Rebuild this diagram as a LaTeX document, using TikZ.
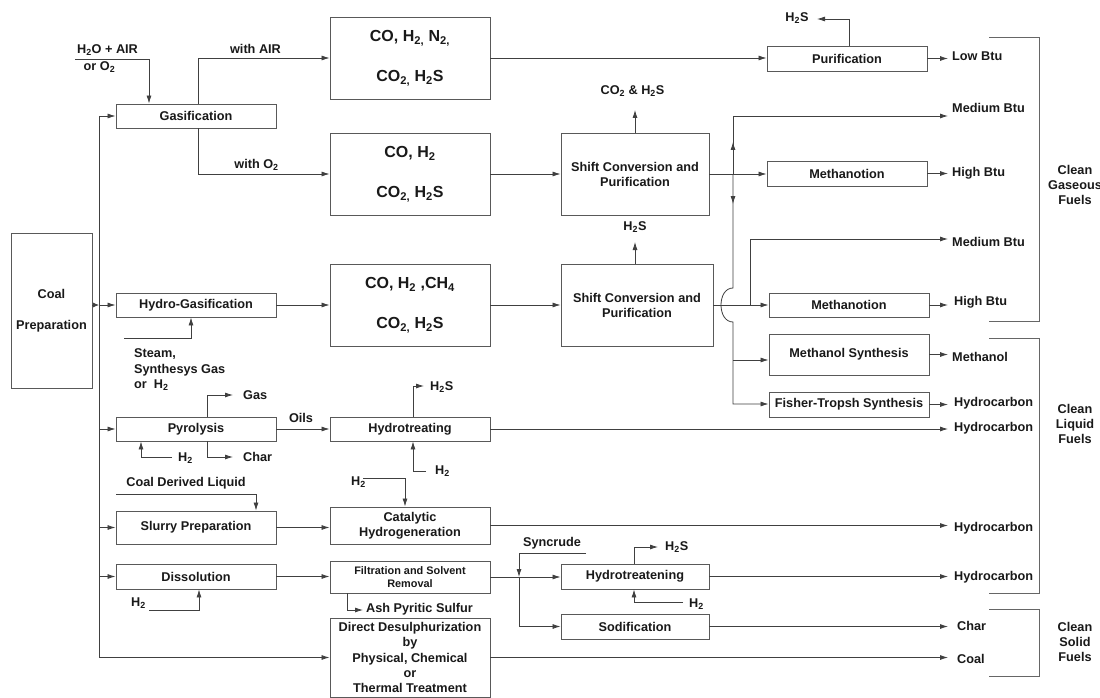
\documentclass[tikz,border=0pt]{standalone}
\usepackage{fontspec}
\setmainfont{Liberation Sans}
\usetikzlibrary{arrows.meta,decorations.markings}
\newcommand\sbs[1]{\textsubscript{#1}}
\begin{document}
\begin{tikzpicture}[x=1pt,y=-1pt,
  font=\fontsize{12.7}{15}\selectfont\bfseries,
  box/.style={draw=black!65, line width=0.9pt, inner sep=0pt, align=center, text=black!90},
  bx/.style 2 args={box, minimum width=#1pt, minimum height=#2pt},
  bigf/.style={font=\fontsize{16}{40}\selectfont\bfseries},
  ln/.style={color=black!75, line width=0.8pt},
  arr/.style={ln, -{Latex[length=8pt,width=5pt]}},
  midarr/.style={postaction={decorate}, decoration={markings, mark=at position #1 with {\arrow{Latex[length=8pt,width=5pt]}}}},
  lab/.style={inner sep=0pt, text=black!90},
  brk/.style={color=black!60, line width=0.8pt}]
\useasboundingbox[fill=white] (0,0) rectangle (1100,698);

% ---------- boxes ----------
\node[bx={81}{155}] (coal) at (51.5,310.5) {Coal\\[16pt]Preparation};
\node[bx={160}{24}] (gas) at (196,116) {Gasification};
\node[bx={160}{82}, bigf] (b1) at (410,58) {CO, H\sbs{2,} N\sbs{2,}\\CO\sbs{2,} H\sbs2S};
\node[bx={160}{82}, bigf] (b2) at (410,174) {CO, H\sbs2\\CO\sbs{2,} H\sbs2S};
\node[bx={148}{82}] (sh1) at (635,174) {Shift Conversion and\\Purification};
\node[bx={160}{25}] (pur) at (847,58.5) {Purification};
\node[bx={160}{25}] (meth1) at (847,173.5) {Methanotion};
\node[bx={160}{24}] (hgas) at (196,305) {Hydro-Gasification};
\node[bx={160}{82}, bigf] (b3) at (410,305) {CO, H\sbs2 ,CH\sbs4\\CO\sbs{2,} H\sbs2S};
\node[bx={152}{82}] (sh2) at (637,305) {Shift Conversion and\\Purification};
\node[bx={160}{24}] (meth2) at (849,305) {Methanotion};
\node[bx={160}{41}] (mesyn) at (849,354.5) {Methanol Synthesis};
\node[bx={160}{25}] (ft) at (849,404.5) {Fisher-Tropsh Synthesis};
\node[bx={160}{24}] (pyr) at (196,429) {Pyrolysis};
\node[bx={160}{24}] (hyd) at (410,429) {Hydrotreating};
\node[bx={160}{33}] (slurry) at (196,527.5) {Slurry Preparation};
\node[bx={160}{37}] (cat) at (410,525.5) {Catalytic\\Hydrogeneration};
\node[bx={160}{25}] (diss) at (196,576.5) {Dissolution};
\node[bx={160}{32}, font=\fontsize{10.9}{13}\selectfont\bfseries] (filt) at (410,577) {Filtration and Solvent\\Removal};
\node[bx={148}{25}] (htr) at (635,576.5) {Hydrotreatening};
\node[bx={148}{25}] (sod) at (635,626.5) {Sodification};
\node[bx={160}{79}, font=\fontsize{12.7}{15.25}\selectfont\bfseries] (dd) at (410,657.5) {Direct Desulphurization\\by\\Physical, Chemical\\or\\Thermal Treatment};

% ---------- labels ----------
\node[lab] (h2oair) at (107.5,50) {H\sbs2O + AIR};
\node[lab] (oro2) at (99.5,67) {or O\sbs2};
\node[lab] (withair) at (255.5,49) {with AIR};
\node[lab] (witho2) at (256.5,165) {with O\sbs2};
\node[lab] (co2h2s) at (632.5,91) {CO\sbs2 \& H\sbs2S};
\node[lab] (h2sA) at (797,18) {H\sbs2S};
\node[lab] (h2sB) at (635,227) {H\sbs2S};
\node[lab, anchor=north west, align=left, font=\fontsize{12.7}{15.5}\selectfont\bfseries] (steam) at (134,348.5) {Steam,\\Synthesys Gas\\or~~H\sbs2};
\node[lab, anchor=west] (gaslab) at (243,395) {Gas};
\node[lab, anchor=west] (charlab) at (243,457) {Char};
\node[lab, anchor=west] (pyrh2lab) at (178,458) {H\sbs2};
\node[lab] (oils) at (301,418) {Oils};
\node[lab, anchor=west] (hydh2slab) at (430,387) {H\sbs2S};
\node[lab, anchor=west] (hydh2lab) at (435,471) {H\sbs2};
\node[lab] (cdl) at (186,483) {Coal Derived Liquid};
\node[lab, anchor=west] (cath2lab) at (351,482) {H\sbs2};
\node[lab, anchor=west] (dissh2lab) at (131,603) {H\sbs2};
\node[lab, anchor=west] (ash) at (366,609) {Ash Pyritic Sulfur};
\node[lab] (syncrude) at (552,543) {Syncrude};
\node[lab, anchor=west] (htrh2slab) at (665,547) {H\sbs2S};
\node[lab, anchor=west] (htrh2lab) at (689,604) {H\sbs2};

\node[lab, anchor=west] (lowbtu) at (952,56) {Low Btu};
\node[lab, anchor=west] (medA) at (952,108) {Medium Btu};
\node[lab, anchor=west] (highA) at (952,173) {High Btu};
\node[lab, anchor=west] (medB) at (952,242) {Medium Btu};
\node[lab, anchor=west] (highB) at (954,302) {High Btu};
\node[lab, anchor=west] (methanol) at (952,357) {Methanol};
\node[lab, anchor=west] (hcA) at (954,403) {Hydrocarbon};
\node[lab, anchor=west] (hcB) at (954,428) {Hydrocarbon};
\node[lab, anchor=west] (hcC) at (954,528) {Hydrocarbon};
\node[lab, anchor=west] (hcD) at (954,577) {Hydrocarbon};
\node[lab, anchor=west] (charout) at (957,626) {Char};
\node[lab, anchor=west] (coalout) at (957,659) {Coal};

\node[lab, align=center] (cgf) at (1075,185) {Clean\\Gaseous\\Fuels};
\node[lab, align=center] (clf) at (1075,424) {Clean\\Liquid\\Fuels};
\node[lab, align=center] (csf) at (1075,642) {Clean\\Solid\\Fuels};

% ---------- coordinates ----------
\coordinate (xtip) at (948,0);
\coordinate (bustop) at (99,116);
\coordinate (h2oin) at (75,59);
\coordinate (h2sAtip) at (817,19);
\coordinate (co2tip) at (635,110);
\coordinate (h2sBtip) at (635,242);
\coordinate (jA) at (733,174);
\coordinate (mAtip) at (948,116);
\coordinate (hop1) at (733,288);
\coordinate (hop2) at (733,322);
\coordinate (jS) at (733,360);
\coordinate (jF) at (733,404);
\coordinate (jB) at (750,305);
\coordinate (mBtip) at (948,239);
\coordinate (steamin) at (124,338);
\coordinate (gastip) at (233,395);
\coordinate (chartip) at (233,457);
\coordinate (pyrh2) at (172,457);
\coordinate (hydh2stip) at (424,386);
\coordinate (hydh2) at (426,471);
\coordinate (cdlin) at (116,494);
\coordinate (cath2) at (363,478);
\coordinate (dissh2) at (149,610);
\coordinate (ashtip) at (363,610);
\coordinate (synin) at (586,553);
\coordinate (jSyn) at (519,577);
\coordinate (htrh2stip) at (658,547);
\coordinate (htrh2) at (683,602);

% ---------- connectors ----------
% feed bus
\draw[ln] (bustop) -- (bustop |- dd.west);
\draw[arr] (bustop) -- (gas.west);
\draw[arr] (bustop |- hgas.west) -- (hgas.west);
\draw[arr] (bustop |- pyr.west) -- (pyr.west);
\draw[arr] (bustop |- slurry.west) -- (slurry.west);
\draw[arr] (bustop |- diss.west) -- (diss.west);
\draw[arr] (bustop |- dd.west) -- (dd.west);
\draw[ln, -{Latex[length=6pt,width=5pt]}] (coal.east |- hgas.west) -- (bustop |- hgas.west);

% gasification
\draw[arr] (h2oin) -| ([xshift=-47pt]gas.north);
\draw[arr] ([xshift=2pt]gas.north) |- (b1.west);
\draw[arr] ([xshift=2pt]gas.south) |- (b2.west);
\draw[arr] (b1.east) -- (b1.east -| pur.west);
\draw[arr] ([xshift=2pt]pur.north) |- (h2sAtip);
\draw[arr] (pur.east) -- (pur.east -| xtip);
\draw[arr] (b2.east) -- (sh1.west);
\draw[arr] (sh1.north) -- (co2tip);
\draw[arr] (sh1.east) -- (sh1.east -| meth1.west);
\draw[arr] (meth1.east) -- (meth1.east -| xtip);
\draw[arr, midarr=32pt] (jA) |- (mAtip);
\draw[arr, midarr=30pt] (jA) -- (hop1) .. controls +(-16,0) and +(-16,0) .. (hop2) -- (jF) -- (jF -| ft.west);
\draw[arr] (jS) -- (jS -| mesyn.west);

% hydro-gasification
\draw[arr] (steamin) -| ([xshift=-5pt]hgas.south);
\draw[arr] (hgas.east) -- (b3.west);
\draw[arr] (b3.east) -- (sh2.west);
\draw[arr] ([xshift=-2pt]sh2.north) -- (h2sBtip);
\draw[arr] (sh2.east) -- (meth2.west);
\draw[arr] (jB) |- (mBtip);
\draw[arr] (meth2.east) -- (meth2.east -| xtip);
\draw[arr] (mesyn.east) -- (mesyn.east -| xtip);
\draw[arr] (ft.east) -- (ft.east -| xtip);

% pyrolysis
\draw[arr] ([xshift=11pt]pyr.north) |- (gastip);
\draw[arr] ([xshift=11pt]pyr.south) |- (chartip);
\draw[arr] (pyrh2) -| ([xshift=-55pt]pyr.south);
\draw[arr] (pyr.east) -- (hyd.west);
\draw[arr] ([xshift=3pt]hyd.north) |- (hydh2stip);
\draw[arr] (hydh2) -| ([xshift=3pt]hyd.south);
\draw[arr] (hyd.east) -- (hyd.east -| xtip);

% slurry
\draw[arr] (cdlin) -| ([xshift=60pt]slurry.north);
\draw[arr] (slurry.east) -- (slurry.east -| cat.west);
\draw[arr] (cath2) -| ([xshift=-5pt]cat.north);
\draw[arr] (cat.east) -- (cat.east -| xtip);

% dissolution
\draw[arr] (dissh2) -| ([xshift=3pt]diss.south);
\draw[arr] (diss.east) -- (diss.east -| filt.west);
\draw[arr] (filt.east) -- (filt.east -| htr.west);
\draw[arr] ([xshift=-63pt]filt.south) |- (ashtip);
\draw[arr] (synin) -| (jSyn);
\draw[arr] (jSyn) |- (sod.west);
\draw[arr] ([xshift=-1pt]htr.north) |- (htrh2stip);
\draw[arr] (htrh2) -| ([xshift=-1pt]htr.south);
\draw[arr] (htr.east) -- (htr.east -| xtip);
\draw[arr] (sod.east) -- (sod.east -| xtip);
\draw[arr] (dd.east) -- (dd.east -| xtip);

% brackets
\coordinate (gA) at (989,37); \coordinate (gB) at (1039,321); \coordinate (gC) at (989,321);
\coordinate (lA) at (989,338); \coordinate (lB) at (1039,593); \coordinate (lC) at (989,593);
\coordinate (sA) at (989,609); \coordinate (sB) at (1039,676); \coordinate (sC) at (989,676);
\draw[brk] (gA) -| (gB) -- (gC);
\draw[brk] (lA) -| (lB) -- (lC);
\draw[brk] (sA) -| (sB) -- (sC);
\end{tikzpicture}
\end{document}
